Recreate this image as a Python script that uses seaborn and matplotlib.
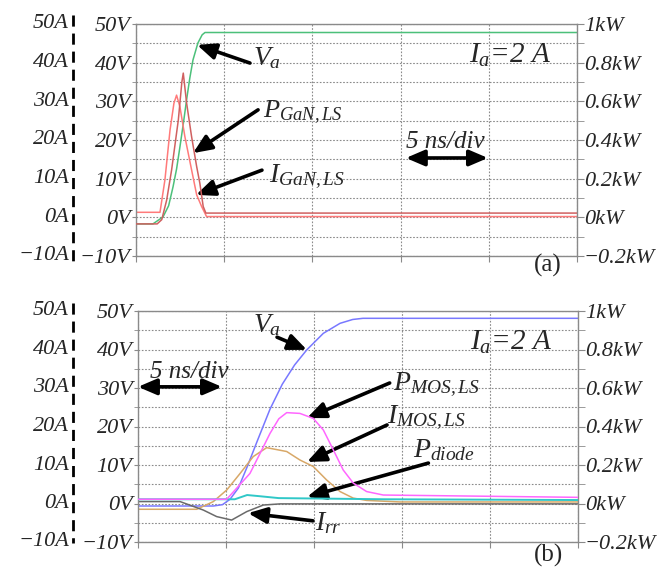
import numpy as np
import pandas as pd
import seaborn as sns
import matplotlib.pyplot as plt
from matplotlib.lines import Line2D
from matplotlib.ticker import MultipleLocator
import matplotlib.transforms as mtransforms

# ---- panel (a): GaN low side, time in ns ----
va_a_t = [0, 0.96, 1.53, 1.85, 2.10, 2.30, 2.49, 2.70, 2.89, 3.05, 3.23, 3.51, 3.75, 3.91, 25]
va_a_v = [-1.7, -1.7, 0.1, 3.0, 7.9, 12.5, 18.2, 24.8, 31.1, 36.0, 40.7, 45.1, 47.2, 47.8, 47.8]

i_gan_t = [0, 1.36, 1.64, 1.93, 2.15, 2.30, 2.49, 2.77, 3.15, 3.44, 3.72, 4.00, 25]
i_gan_a = [1.3, 1.3, 9.7, 22.6, 29.5, 31.6, 28.6, 20.9, 12.3, 5.8, 2.8, 0.2, 0.2]

p_gan_t = [0, 1.2, 1.46, 1.74, 2.02, 2.40, 2.60, 2.68, 2.87, 3.15, 3.44, 3.62, 3.81, 3.96, 25]
p_gan_kw = [-0.034, -0.034, -0.012, 0.09, 0.246, 0.504, 0.70, 0.746, 0.59, 0.418, 0.262, 0.176, 0.056, 0.022, 0.022]

# ---- panel (b): MOSFET low side ----
va_b_t = [0, 4.28, 4.8, 5.23, 5.7, 6.2, 6.8, 7.5, 8.2, 8.9, 9.59, 10.53, 11.48, 12.2, 12.78, 25]
va_b_v = [-0.65, -0.65, -0.3, 1.1, 4.0, 9.5, 16.5, 24.5, 31.0, 36.0, 39.9, 44.2, 46.8, 47.8, 48.1, 48.1]

p_mos_t = [0, 5.04, 6.36, 7.12, 7.5, 8.0, 8.45, 9.2, 9.96, 10.53, 11.1, 11.66, 12.23, 12.99, 13.94, 25]
p_mos_kw = [0.022, 0.022, 0.156, 0.294, 0.364, 0.44, 0.472, 0.468, 0.442, 0.382, 0.278, 0.174, 0.106, 0.062, 0.044, 0.032]

i_mos_t = [0, 3.34, 4.28, 5.04, 5.80, 6.55, 7.31, 8.45, 9.2, 9.96, 10.72, 11.48, 12.23, 12.99, 14.9, 25]
i_mos_a = [-1.5, -1.5, 0.5, 3.5, 7.8, 12.2, 14.5, 13.5, 11.3, 9.6, 6.1, 3.1, 1.4, 0.8, 0.4, 0.4]

p_diode_t = [0, 5.5, 6.2, 6.9, 8.0, 10.0, 14.0, 25]
p_diode_kw = [0.022, 0.022, 0.044, 0.038, 0.028, 0.026, 0.022, 0.018]

i_rr_t = [0, 2.39, 3.71, 4.47, 5.32, 6.18, 7.12, 8.07, 25]
i_rr_a = [0.5, 0.5, -1.7, -3.4, -4.3, -2.1, -0.4, -0.1, -0.1]

v_ticks = [50, 40, 30, 20, 10, 0, -10]
kw_ticks = [1.0, 0.8, 0.6, 0.4, 0.2, 0.0, -0.2]


def fmt_num(v):
    s = f"{abs(v):g}"
    return ("\u2212" + s) if v < 0 else s


sns.set_style("white")
plt.rcParams['font.family'] = ['Liberation Serif', 'DejaVu Serif']
plt.rcParams['font.style'] = 'italic'
plt.rcParams['mathtext.fontset'] = 'custom'
plt.rcParams['mathtext.it'] = 'Liberation Serif:italic'
plt.rcParams['mathtext.rm'] = 'Liberation Serif:italic'

fig = plt.figure(figsize=(6.57, 5.77), dpi=100)
ax_a = fig.add_axes([136 / 657, 1 - 256 / 577, 441 / 657, 232 / 577])
ax_b = fig.add_axes([138 / 657, 1 - 542 / 577, 440 / 657, 231 / 577])

spine_col = '#8a8a8a'
TICK_FS = 16


def setup(ax):
    ax.set_xlim(0, 25)
    ax.set_ylim(-10, 50)
    ax.xaxis.set_major_locator(MultipleLocator(5))
    ax.yaxis.set_minor_locator(MultipleLocator(5))
    ax.set_xticklabels([])
    ax.set_yticks(v_ticks)
    ax.set_yticklabels([fmt_num(v) + "V" for v in v_ticks], fontsize=TICK_FS, fontstyle='italic')
    ax.tick_params(axis='x', which='major', length=4, color=spine_col, direction='out', bottom=True)
    ax.tick_params(axis='y', which='both', length=3, color=spine_col, direction='out', pad=1, left=True)
    ax.grid(True, which='both', axis='y', linestyle=(0, (1.5, 1.5)), color='#8a8a8a', linewidth=0.8)
    ax.grid(True, which='major', axis='x', linestyle=(0, (1.5, 1.5)), color='#8a8a8a', linewidth=0.8)
    for s in ax.spines.values():
        s.set_color(spine_col)
        s.set_linewidth(1.0)
    # current column on the far left
    tr = mtransforms.blended_transform_factory(fig.transFigure, ax.transData)
    for v in v_ticks:
        ax.text(69 / 657, v, fmt_num(v) + "A", transform=tr, ha='right', va='center',
                fontsize=TICK_FS, fontstyle='italic', clip_on=False)
    # power axis on the right
    ax2 = ax.twinx()
    ax2.set_ylim(-0.2, 1.0)
    ax2.set_yticks(kw_ticks)
    ax2.yaxis.set_minor_locator(MultipleLocator(0.1))
    ax2.set_yticklabels([fmt_num(round(v, 1)) + "kW" for v in kw_ticks], fontsize=TICK_FS,
                        fontstyle='italic')
    ax2.tick_params(axis='y', which='both', length=5, color=spine_col, direction='out', pad=0)
    for s in ax2.spines.values():
        s.set_visible(False)
    return ax2


def arrow(ax, start, tip, style='-|>'):
    ax.annotate('', xy=tip, xytext=start, annotation_clip=False,
                arrowprops=dict(arrowstyle=style + ',head_length=0.7,head_width=0.3',
                                color='black', lw=2.6, shrinkA=0, shrinkB=0,
                                mutation_scale=16))


# ---------- panel (a) ----------
ax2_a = setup(ax_a)
sns.lineplot(x=va_a_t, y=va_a_v, ax=ax_a, color='#4cc07a', linewidth=1.1)
sns.lineplot(x=i_gan_t, y=i_gan_a, ax=ax_a, color='#ff7a7a', linewidth=1.1)
sns.lineplot(x=p_gan_t, y=p_gan_kw, ax=ax2_a, color='#d06060', linewidth=1.1)
ax_a.set_ylabel('')
ax2_a.set_ylabel('')

ax_a.text(6.63, 39.4, r'$V_a$', fontsize=20, ha='left', va='baseline')
arrow(ax_a, (6.46, 39.9), (3.46, 44.6))
ax_a.text(7.2, 25.7, r'$P_{GaN,LS}$', fontsize=19, ha='left', va='baseline')
arrow(ax_a, (6.92, 27.8), (3.23, 16.6))
ax_a.text(7.55, 9.1, r'$I_{GaN,LS}$', fontsize=20, ha='left', va='baseline')
arrow(ax_a, (7.14, 12.2), (3.40, 5.8))
ax_a.text(18.9, 39.9, r'$I_a$=2 A', fontsize=21, ha='left', va='baseline')
ax_a.text(15.3, 17.9, '5 ns/div', fontsize=18, ha='left', va='baseline')
arrow(ax_a, (15.3, 15.35), (19.95, 15.35), style='<|-|>')
ax_a.text(23.36, -12.5, '(a)', fontsize=18, fontstyle='normal', ha='center', va='center', clip_on=False)

# ---------- panel (b) ----------
ax2_b = setup(ax_b)
sns.lineplot(x=va_b_t, y=va_b_v, ax=ax_b, color='#7878ff', linewidth=1.1)
sns.lineplot(x=i_mos_t, y=i_mos_a, ax=ax_b, color='#d8a868', linewidth=1.1)
sns.lineplot(x=i_rr_t, y=i_rr_a, ax=ax_b, color='#6a6a6a', linewidth=1.1)
sns.lineplot(x=p_diode_t, y=p_diode_kw, ax=ax2_b, color='#30c8c8', linewidth=1.4)
sns.lineplot(x=p_mos_t, y=p_mos_kw, ax=ax2_b, color='#ff66ff', linewidth=1.1)
ax_b.set_ylabel('')
ax2_b.set_ylabel('')

ax_b.text(6.53, 44.5, r'$V_a$', fontsize=20, ha='left', va='baseline')
arrow(ax_b, (7.9, 43.2), (9.6, 39.9))
ax_b.text(0.68, 32.6, '5 ns/div', fontsize=18, ha='left', va='baseline')
arrow(ax_b, (0.0, 30.3), (4.77, 30.3), style='<|-|>')
ax_b.text(18.86, 39.9, r'$I_a$=2 A', fontsize=21, ha='left', va='baseline')
ax_b.text(14.5, 29.5, r'$P_{MOS,LS}$', fontsize=20, ha='left', va='baseline')
arrow(ax_b, (14.3, 31.3), (9.6, 22.2))
ax_b.text(14.15, 20.9, r'$I_{MOS,LS}$', fontsize=20, ha='left', va='baseline')
arrow(ax_b, (14.15, 20.4), (9.6, 10.8))
ax_b.text(15.6, 12.1, r'$P_{diode}$', fontsize=20, ha='left', va='baseline')
arrow(ax_b, (16.5, 10.5), (9.6, 1.7))
ax_b.text(10.06, -6.9, r'$I_{rr}$', fontsize=20, ha='left', va='baseline', clip_on=False)
arrow(ax_b, (9.94, -4.5), (6.25, -2.5))
ax_b.text(23.3, -13.6, '(b)', fontsize=18, fontstyle='normal', ha='center', va='center', clip_on=False)

# dashed separators between A and V columns
for y0, y1 in [(15, 262), (303, 543)]:
    fig.add_artist(Line2D([73 / 657, 73 / 657], [1 - y0 / 577, 1 - y1 / 577],
                          transform=fig.transFigure, color='black', lw=2,
                          linestyle=(0, (4, 2.5))))

fig.savefig('out.png', dpi=100)
